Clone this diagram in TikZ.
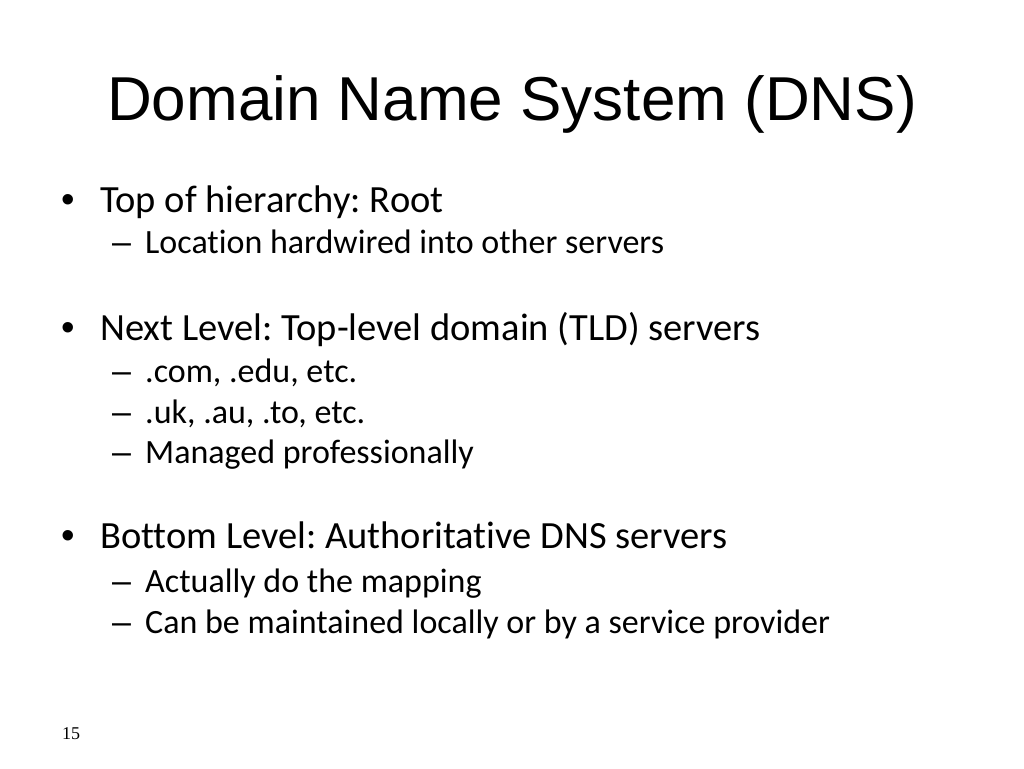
\documentclass[tikz,border=0pt]{standalone}
\usepackage{fontspec}
\setmainfont{Carlito}[Ligatures={NoCommon,NoRare}]
\newfontfamily\headfont{Liberation Sans}
\newfontfamily\pagefont{Liberation Serif}
\frenchspacing
\tikzset{
  txt/.style={anchor=base west,inner sep=0pt},
  lvlone/.style={txt,font=\fontsize{38.5}{38.5}\selectfont},
  lvltwo/.style={txt,font=\fontsize{34}{34}\selectfont},
  dot/.style={anchor=base,inner sep=0pt,font=\headfont\fontsize{38.5}{38.5}\selectfont},
  dashmark/.style={txt,font=\headfont\fontsize{34}{34}\selectfont}
}
\begin{document}
\begin{tikzpicture}[x=1pt,y=-1pt]
	\useasboundingbox (0,0) rectangle (1024,768);
	\node[anchor=base,inner sep=0pt,font=\headfont\fontsize{62}{62}\selectfont] (title) at (512,120) {Domain Name System (DNS)};
	% first level
	\foreach \n/\y/\t in {top/212/{Top of hierarchy: Root},next/340/{Next Level: Top-level domain (TLD) servers},bottom/548/{Bottom Level: Authoritative DNS servers}}{
		\node[dot] (\n-b) at (68,\y) {•};
		\node[lvlone] (\n) at (100,\y) {\t};
	}
	% second level
	\foreach \n/\y/\t in {loc/253/{Location hardwired into other servers},com/382/{.com, .edu, etc.},uk/423/{.uk, .au, .to, etc.},man/463/{Managed professionally},map/592/{Actually do the mapping},can/633/{Can be maintained locally or by a service provider}}{
		\node[dashmark] (\n-d) at (112,\y) {–};
		\node[lvltwo] (\n) at (145,\y) {\t};
	}
	\node[txt,font=\pagefont\fontsize{18}{18}\selectfont] (page) at (62,739) {15};
\end{tikzpicture}
\end{document}
